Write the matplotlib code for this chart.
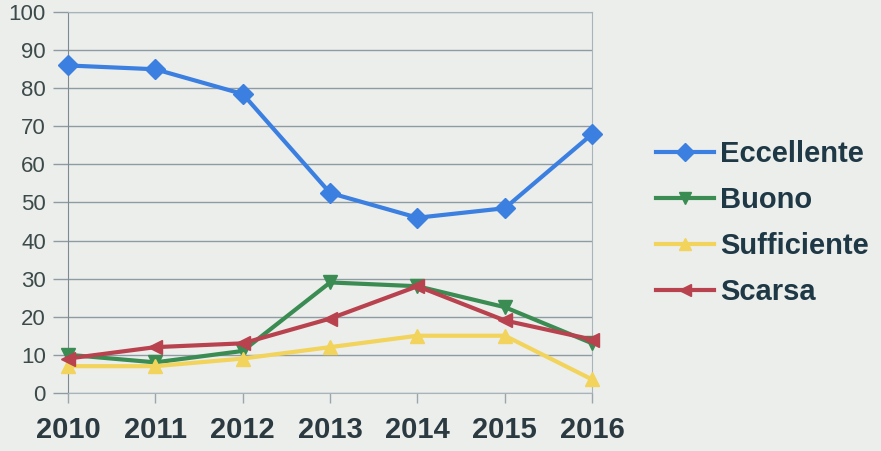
import matplotlib.pyplot as plt

years = [2010, 2011, 2012, 2013, 2014, 2015, 2016]
eccellente = [86, 85, 78.5, 52.5, 46, 48.5, 68]
buono = [10, 8, 11, 29, 28, 22.5, 13]
sufficiente = [7, 7, 9, 12, 15, 15, 3.5]
scarsa = [9, 12, 13, 19.5, 28, 19, 14]

series = [
    ("Eccellente", eccellente, "#3b7fe0", "D"),
    ("Buono", buono, "#3a8c52", "v"),
    ("Sufficiente", sufficiente, "#f2d35c", "^"),
    ("Scarsa", scarsa, "#b8434f", "<"),
]

plt.rcParams['font.family'] = ['Liberation Sans', 'DejaVu Sans']
bg = "#eceeec"
txt = "#2b3a40"

fig = plt.figure(figsize=(8.81, 4.51), dpi=100, facecolor=bg)
ax = fig.add_axes([0.0772, 0.129, 0.595, 0.844], facecolor=bg)

for name, vals, col, mk in series:
    ax.plot(years, vals, color=col, lw=3, marker=mk, markersize=10,
            markeredgecolor=col, label=name, clip_on=False, zorder=3)

ax.set_xlim(2010, 2016)
ax.set_ylim(0, 100)
ax.set_yticks(range(0, 101, 10))
ax.set_xticks(years)
ax.set_xticklabels([str(y) for y in years], fontsize=21, fontweight='bold', color=txt)
ax.tick_params(axis='y', labelsize=16, colors='#3c4a4a', length=11, width=1, pad=5)
ax.tick_params(axis='x', length=7, width=1, color='#9aa6aa', pad=10)
ax.yaxis.grid(True, color='#8e9ca2', lw=1)
for s in ['top', 'right', 'bottom']:
    ax.spines[s].set_color('#a8b4ba')
ax.spines['left'].set_color('#7e8a8e')
ax.tick_params(axis='y', color='#8e9ca2')

# legend to the right of the plot
leg = fig.legend(loc='center left', bbox_to_anchor=(0.715, 0.505), frameon=False,
                 handlelength=2.0, handletextpad=0.2, labelspacing=0.62,
                 markerscale=0.9,
                 prop={'size': 21, 'weight': 'bold'}, labelcolor='#1f3845')

fig.savefig("out.png", dpi=100, facecolor=bg)
